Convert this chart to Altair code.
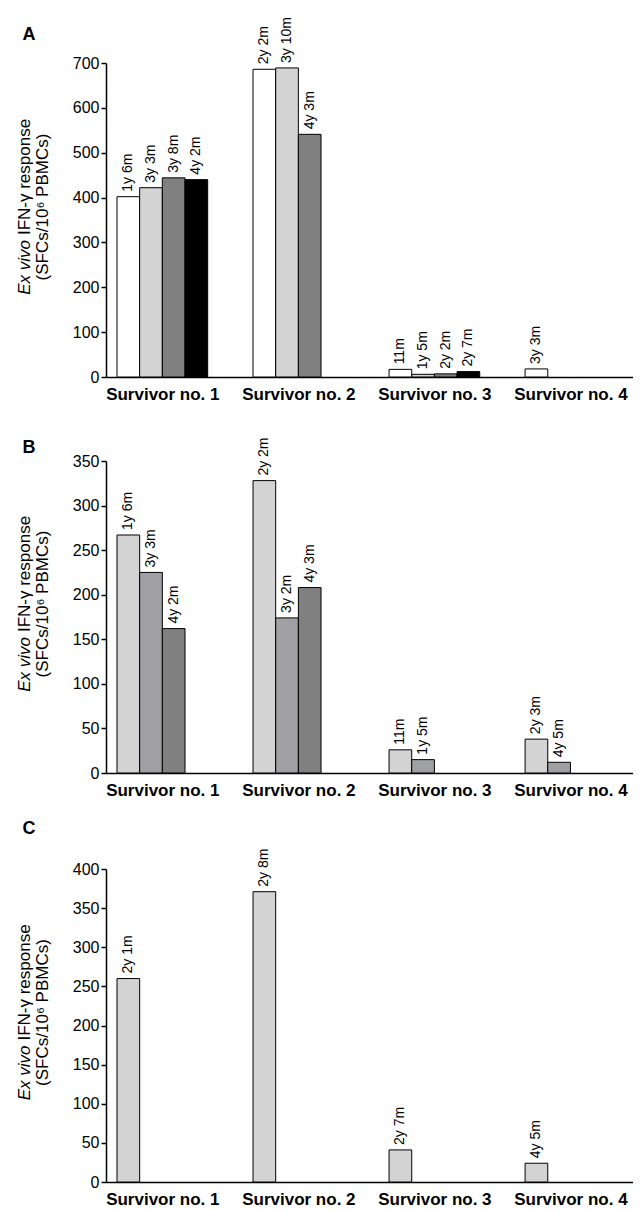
import altair as alt
import pandas as pd

survivors = ["Survivor no. 1", "Survivor no. 2", "Survivor no. 3", "Survivor no. 4"]

# Panel A
a_survivor = [0, 0, 0, 0, 1, 1, 1, 2, 2, 2, 2, 3]
a_order = [0, 1, 2, 3, 0, 1, 2, 0, 1, 2, 3, 0]
a_time = ["1y 6m", "3y 3m", "3y 8m", "4y 2m", "2y 2m", "3y 10m", "4y 3m",
          "11m", "1y 5m", "2y 2m", "2y 7m", "3y 3m"]
a_value = [402, 422, 444, 440, 686, 689, 541, 17, 6, 7, 12, 18]

# Panel B
b_survivor = [0, 0, 0, 1, 1, 1, 2, 2, 3, 3]
b_order = [0, 1, 2, 0, 1, 2, 0, 1, 0, 1]
b_time = ["1y 6m", "3y 3m", "4y 2m", "2y 2m", "3y 2m", "4y 3m", "11m", "1y 5m",
          "2y 3m", "4y 5m"]
b_value = [267, 225, 162, 328, 174, 208, 26, 15, 38, 12]

# Panel C
c_survivor = [0, 1, 2, 3]
c_order = [0, 0, 0, 0]
c_time = ["2y 1m", "2y 8m", "2y 7m", "4y 5m"]
c_value = [260, 371, 41, 24]

pal_a = ["#ffffff", "#d3d3d3", "#808080", "#000000"]
pal_b = ["#d3d3d3", "#a0a0a5", "#808080"]
pal_c = ["#d3d3d3"]

FONT = "Liberation Sans"
W = 527
X_DOMAIN = [-0.985, 22.26]
label_expr = "[" + ",".join("'%s'" % s for s in survivors) + "][round((datum.value - 1.5) / 6)]"


def panel(letter, surv, order, times, values, palette, ymax, ystep, plot_h, top_gap, letter_y):
    df = pd.DataFrame({"survivor": surv, "order": order, "time": times, "value": values})
    df["slot"] = df["survivor"] * 6 + df["order"]
    df["x0"] = df["slot"] - 0.5
    df["x1"] = df["slot"] + 0.5

    height = plot_h + top_gap
    xscale = alt.Scale(domain=X_DOMAIN, nice=False, zero=False, padding=0)
    yscale = alt.Scale(domain=[0, ymax], nice=False, padding=0, range=[height, top_gap])

    bars = alt.Chart(df).mark_bar(stroke="black", strokeWidth=1, orient="vertical").encode(
        x=alt.X("x0:Q", scale=xscale, title=None,
                axis=alt.Axis(values=[g * 6 + 1.5 for g in range(len(survivors))],
                              labelExpr=label_expr, ticks=False, grid=False,
                              labelFontWeight="bold", labelFontSize=17, labelPadding=9,
                              labelFont=FONT, labelColor="black", labelFlush=False,
                              labelOverlap=False, domainColor="black", domainWidth=1.5)),
        x2="x1:Q",
        y=alt.Y("value:Q", scale=yscale, title=None,
                axis=alt.Axis(values=list(range(0, ymax + 1, ystep)), grid=False,
                              tickSize=5, tickColor="black", tickWidth=1.5,
                              domainColor="black", domainWidth=1.5, labelOverlap=False,
                              labelFont=FONT, labelFontSize=16, labelColor="black",
                              labelPadding=2)),
        y2=alt.datum(0),
        fill=alt.Fill("order:N", scale=alt.Scale(domain=list(range(len(palette))), range=palette),
                      legend=None),
    )

    labels = alt.Chart(df).mark_text(angle=270, align="left", baseline="middle", dx=5,
                                     fontSize=14, font=FONT, color="black").encode(
        x=alt.X("slot:Q", scale=xscale),
        y=alt.Y("value:Q", scale=yscale),
        text="time:N",
    )

    one = pd.DataFrame({"k": [0]})
    c = top_gap + plot_h / 2 - 13
    w1 = 3.223 * 17
    w2 = 7.113 * 17
    split = c + (w1 + w2) / 2 - w1
    t1 = alt.Chart(one).mark_text(angle=270, align="right", baseline="middle", fontSize=17,
                                  font=FONT, fontStyle="italic", color="black").encode(
        x=alt.value(-81), y=alt.value(split), text=alt.value("Ex vivo"))
    t2 = alt.Chart(one).mark_text(angle=270, align="left", baseline="middle", fontSize=17,
                                  font=FONT, color="black", dx=5).encode(
        x=alt.value(-81), y=alt.value(split), text=alt.value("IFN-\u03b3 response"))
    t3 = alt.Chart(one).mark_text(angle=270, align="center", baseline="middle", fontSize=17,
                                  font=FONT, color="black").encode(
        x=alt.value(-63), y=alt.value(c), text=alt.value("(SFCs/10\u2076 PBMCs)"))
    let = alt.Chart(one).mark_text(align="center", baseline="middle", fontSize=18,
                                   fontWeight="bold", font=FONT, color="black").encode(
        x=alt.value(-77), y=alt.value(top_gap + letter_y), text=alt.value(letter))

    return alt.layer(bars, labels, t1, t2, t3, let).properties(width=W, height=height)


pa = panel("A", a_survivor, a_order, a_time, a_value, pal_a, 700, 100, 314, 0, -28)
pb = panel("B", b_survivor, b_order, b_time, b_value, pal_b, 350, 50, 312, 0, -13)
pc = panel("C", c_survivor, c_order, c_time, c_value, pal_c, 400, 50, 313, 12, -40)

chart = alt.vconcat(pa, pb, pc, spacing=84, bounds="flush").resolve_scale(
    fill="independent", y="independent"
).properties(
    padding={"left": 8, "top": 9, "right": 0, "bottom": 0}
).configure_view(stroke=None)

chart.save("out.html", embed_options={"renderer": "svg", "actions": False})
